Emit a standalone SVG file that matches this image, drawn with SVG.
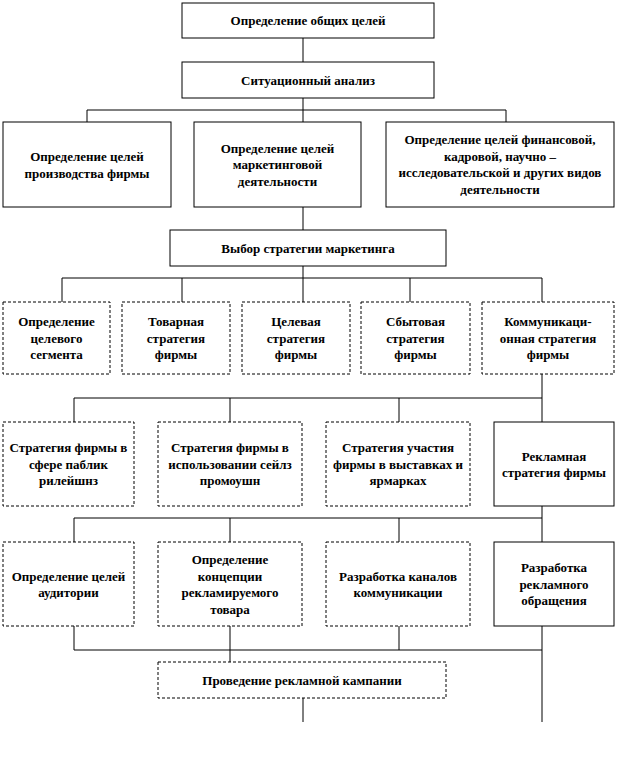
<svg xmlns="http://www.w3.org/2000/svg" width="618" height="759" viewBox="0 0 618 759">
<style>
.b{fill:#fff;stroke:#000;stroke-width:1}
.d{fill:#fff;stroke:#000;stroke-width:1;stroke-dasharray:3 2}
.c{fill:none;stroke:#000;stroke-width:1}
text{font-weight:bold;font-size:13px;fill:#000;text-anchor:middle}
</style>
<rect width="618" height="759" fill="#fff"/>
<g id="connectors" class="c">
<path d="M303,38V62"/>
<path d="M303,98V110M87,110H506M87,110V122M303,110V122M506,110V122"/>
<path d="M303,207V230"/>
<path d="M303,266V278M62,278H542M62,278V302M182,278V302M303,278V302M410,278V302M542,278V302"/>
<path d="M542,374V422M74,398H542M74,398V422M230,398V422M399,398V422"/>
<path d="M542,506V542M74,518H542M74,518V542M230,518V542M399,518V542"/>
<path d="M74,626V650M399,626V650M74,650H542M230,626V662M542,626V722"/>
<path d="M303,698V722"/>
</g>
<g id="nodes" font-family="Liberation Serif, serif">
<g id="n1"><rect class="b" x="182" y="3" width="252" height="35"/><text x="308" y="25">Определение  общих целей</text></g>
<g id="n2"><rect class="b" x="182" y="62" width="252" height="36"/><text x="308" y="85">Ситуационный анализ</text></g>
<g id="n3"><rect class="b" x="3" y="122" width="168" height="85"/><text x="87" y="161">Определение целей</text><text x="87" y="177.5">производства фирмы</text></g>
<g id="n4"><rect class="b" x="194" y="122" width="167" height="85"/><text x="277.5" y="152.5">Определение целей</text><text x="277.5" y="169">маркетинговой</text><text x="277.5" y="185.5">деятельности</text></g>
<g id="n5"><rect class="b" x="386" y="122" width="228" height="85"/><text x="500" y="144">Определение целей финансовой,</text><text x="500" y="160.5">кадровой, научно –</text><text x="500" y="177">исследовательской и других видов</text><text x="500" y="193.5">деятельности</text></g>
<g id="n6"><rect class="b" x="170" y="230" width="276" height="36"/><text x="308" y="253">Выбор стратегии маркетинга</text></g>
<g id="n7"><rect class="d" x="3" y="302" width="107" height="72"/><text x="56.5" y="326">Определение</text><text x="56.5" y="342.5">целевого</text><text x="56.5" y="359">сегмента</text></g>
<g id="n8"><rect class="d" x="122" y="302" width="108" height="72"/><text x="176" y="326">Товарная</text><text x="176" y="342.5">стратегия</text><text x="176" y="359">фирмы</text></g>
<g id="n9"><rect class="d" x="242" y="302" width="108" height="72"/><text x="296" y="326">Целевая</text><text x="296" y="342.5">стратегия</text><text x="296" y="359">фирмы</text></g>
<g id="n10"><rect class="d" x="361" y="302" width="109" height="72"/><text x="415.5" y="326">Сбытовая</text><text x="415.5" y="342.5">стратегия</text><text x="415.5" y="359">фирмы</text></g>
<g id="n11"><rect class="d" x="482" y="302" width="132" height="72"/><text x="548" y="326">Коммуникаци-</text><text x="548" y="342.5">онная стратегия</text><text x="548" y="359">фирмы</text></g>
<g id="n12"><rect class="d" x="3" y="422" width="131" height="84"/><text x="68.5" y="452">Стратегия фирмы в</text><text x="68.5" y="468.5">сфере паблик</text><text x="68.5" y="485">рилейшнз</text></g>
<g id="n13"><rect class="d" x="158" y="422" width="144" height="84"/><text x="230" y="452">Стратегия фирмы в</text><text x="230" y="468.5">использовании сейлз</text><text x="230" y="485">промоушн</text></g>
<g id="n14"><rect class="d" x="326" y="422" width="144" height="84"/><text x="398" y="452">Стратегия участия</text><text x="398" y="468.5">фирмы в выставках и</text><text x="398" y="485">ярмарках</text></g>
<g id="n15"><rect class="b" x="494" y="422" width="120" height="84"/><text x="554" y="460.5">Рекламная</text><text x="554" y="477">стратегия фирмы</text></g>
<g id="n16"><rect class="d" x="3" y="542" width="131" height="84"/><text x="68.5" y="580.5">Определение целей</text><text x="68.5" y="597">аудитории</text></g>
<g id="n17"><rect class="d" x="158" y="542" width="144" height="84"/><text x="230" y="564">Определение</text><text x="230" y="580.5">концепции</text><text x="230" y="597">рекламируемого</text><text x="230" y="613.5">товара</text></g>
<g id="n18"><rect class="d" x="326" y="542" width="144" height="84"/><text x="398" y="580.5">Разработка каналов</text><text x="398" y="597">коммуникации</text></g>
<g id="n19"><rect class="b" x="494" y="542" width="120" height="84"/><text x="554" y="572">Разработка</text><text x="554" y="588.5">рекламного</text><text x="554" y="605">обращения</text></g>
<g id="n20"><rect class="d" x="158" y="662" width="288" height="36"/><text x="302" y="684.5">Проведение рекламной кампании</text></g>
</g>
</svg>
